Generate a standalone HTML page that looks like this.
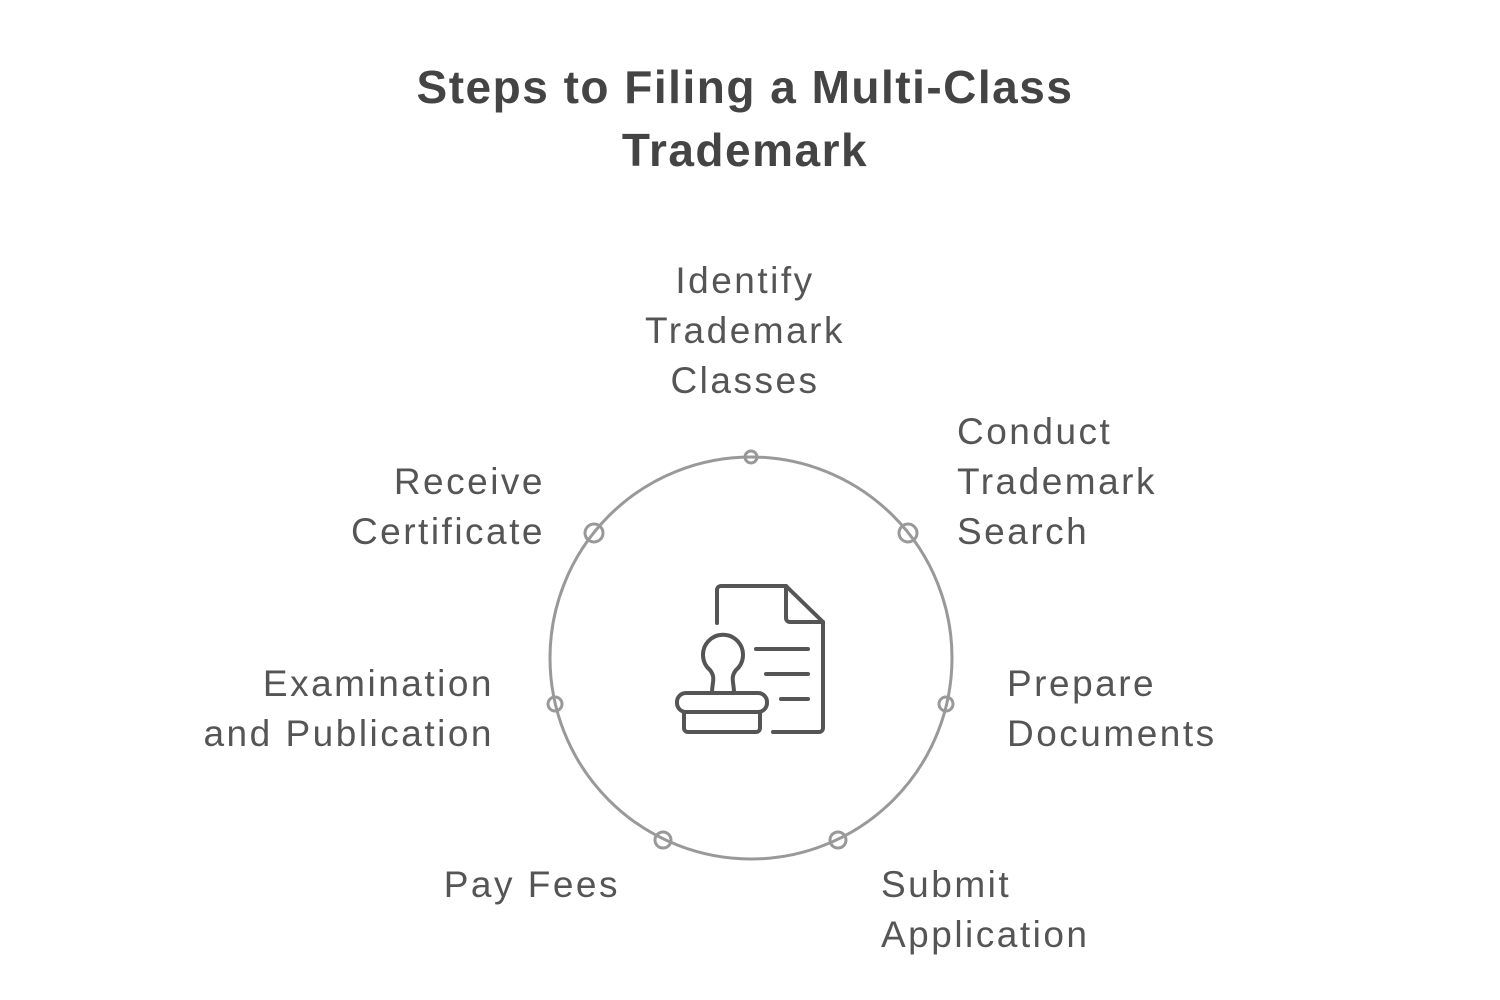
<!DOCTYPE html>
<html><head><meta charset="utf-8"><style>
html,body{margin:0;padding:0;background:#fff;width:1500px;height:1000px;overflow:hidden;font-family:"Liberation Sans",sans-serif}
.t{position:absolute;font-size:37px;line-height:50px;color:#555;letter-spacing:2.5px;white-space:nowrap}
.r{text-align:right}
h1{position:absolute;left:0;width:1490px;top:56px;margin:0;text-align:center;font-size:46px;line-height:63px;color:#444;font-weight:bold;letter-spacing:1.5px}
</style></head><body>
<h1>Steps to Filing a Multi-Class<br>Trademark</h1>
<svg width="1500" height="1000" style="position:absolute;left:0;top:0">
<circle cx="751" cy="658" r="201" fill="none" stroke="#999" stroke-width="3"/>
<g fill="none" stroke="#999" stroke-width="3">
<circle cx="751" cy="457" r="6"/><circle cx="908" cy="533" r="9"/><circle cx="946" cy="704" r="7"/>
<circle cx="838" cy="840" r="8"/><circle cx="663" cy="840" r="8"/><circle cx="555" cy="704" r="7"/><circle cx="594" cy="533" r="9"/>
</g>
<g fill="none" stroke="#555" stroke-width="4" stroke-linecap="round" stroke-linejoin="round">
<path d="M717 623 V590 a4 4 0 0 1 4-4 H786 L823 622 V728 a4 4 0 0 1 -4 4 H773"/>
<path d="M786 586 V618 a4 4 0 0 0 4 4 H823"/>
<path d="M756 649 H808 M766 674 H808 M781 699 H808"/>
<path d="M712 693 C712 682 716 678 710 670 A20 20 0 1 1 736 670 C730 678 734 682 734 693"/>
<rect x="677" y="693" width="90" height="19" rx="9"/>
<path d="M684 712 V728 a4 4 0 0 0 4 4 H756 a4 4 0 0 0 4-4 V712"/>
</g>
</svg>
<div class="t" style="left:620px;width:250px;top:256px;text-align:center">Identify<br>Trademark<br>Classes</div>
<div class="t" style="left:957px;top:407px">Conduct<br>Trademark<br>Search</div>
<div class="t r" style="right:955px;top:457px">Receive<br>Certificate</div>
<div class="t" style="left:1007px;top:659px">Prepare<br>Documents</div>
<div class="t r" style="right:1006px;top:659px">Examination<br>and Publication</div>
<div class="t" style="left:881px;top:860px">Submit<br>Application</div>
<div class="t r" style="right:880px;top:860px">Pay Fees</div>
</body></html>
